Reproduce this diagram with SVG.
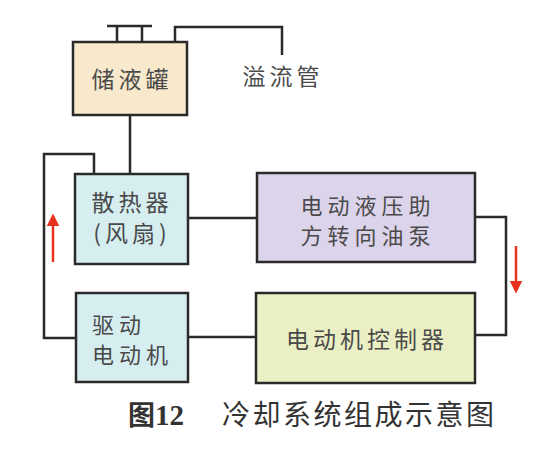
<svg xmlns="http://www.w3.org/2000/svg" width="555" height="463" viewBox="0 0 555 463">
<defs>
<style>
.box{stroke:#2a2a2a;stroke-width:2.5}
.ln{fill:none;stroke:#2a2a2a;stroke-width:2.5}
.t{font-family:"Noto Sans CJK SC","Noto Sans",sans-serif;font-size:23px;fill:#4a4a4a;letter-spacing:4px}
.t2{font-size:22px;letter-spacing:5px}
.arr{fill:none;stroke:#e8321e;stroke-width:2.5}
</style>
<marker id="ah" viewBox="0 0 10 10" refX="8" refY="5" markerWidth="5" markerHeight="6" orient="auto" markerUnits="strokeWidth">
<path d="M0,0 L10,5 L0,10 z" fill="#e8321e"/>
</marker>
</defs>
<rect width="555" height="463" fill="#ffffff"/>
<g id="connectors">
<path class="ln" d="M107,26 H152 M117,26 V42 M142,26 V42"/>
<path class="ln" d="M175,42 V27 H282 V55"/>
<path class="ln" d="M130,115 V174"/>
<path class="ln" d="M94,174 V154 H44 V338 H76"/>
<path class="ln" d="M188,218 H257"/>
<path class="ln" d="M475,217 H506 V335 H475"/>
<path class="ln" d="M188,337 H257"/>
<line class="arr" x1="53" y1="262" x2="53" y2="216" marker-end="url(#ah)"/>
<line class="arr" x1="516" y1="246" x2="516" y2="291" marker-end="url(#ah)"/>
</g>
<g id="tank">
<rect class="box" x="73" y="42" width="114" height="73" fill="#f8e8cc"/>
<text class="t" x="132" y="88" text-anchor="middle">储液罐</text>
</g>
<g id="overflow-label">
<text class="t" x="283" y="85" text-anchor="middle" fill="#555">溢流管</text>
</g>
<g id="radiator">
<rect class="box" x="75" y="174" width="113" height="90" fill="#d6eef0"/>
<text class="t" text-anchor="middle"><tspan x="132" y="211">散热器</tspan><tspan x="132" y="242">(风扇)</tspan></text>
</g>
<g id="pump">
<rect class="box" x="257" y="173" width="218" height="89" fill="#dcd4ea"/>
<text class="t t2" text-anchor="middle"><tspan x="368" y="214">电动液压助</tspan><tspan x="368" y="244">方转向油泵</tspan></text>
</g>
<g id="motor">
<rect class="box" x="76" y="293" width="112" height="89" fill="#d6eef0"/>
<text class="t t2"><tspan x="92" y="333">驱动</tspan><tspan x="92" y="363">电动机</tspan></text>
</g>
<g id="controller">
<rect class="box" x="256" y="293" width="219" height="90" fill="#eaf0c4"/>
<text class="t" x="367" y="348" text-anchor="middle">电动机控制器</text>
</g>
<g id="caption">
<text x="128" y="425" font-family="'Noto Sans CJK SC',sans-serif" font-size="27" font-weight="bold" fill="#333">图<tspan font-family="'Liberation Serif',serif" font-size="29">12</tspan></text>
<text x="222" y="425" font-family="'Noto Sans CJK SC',sans-serif" font-size="28" fill="#333" letter-spacing="2.5">冷却系统组成示意图</text>
</g>
</svg>
